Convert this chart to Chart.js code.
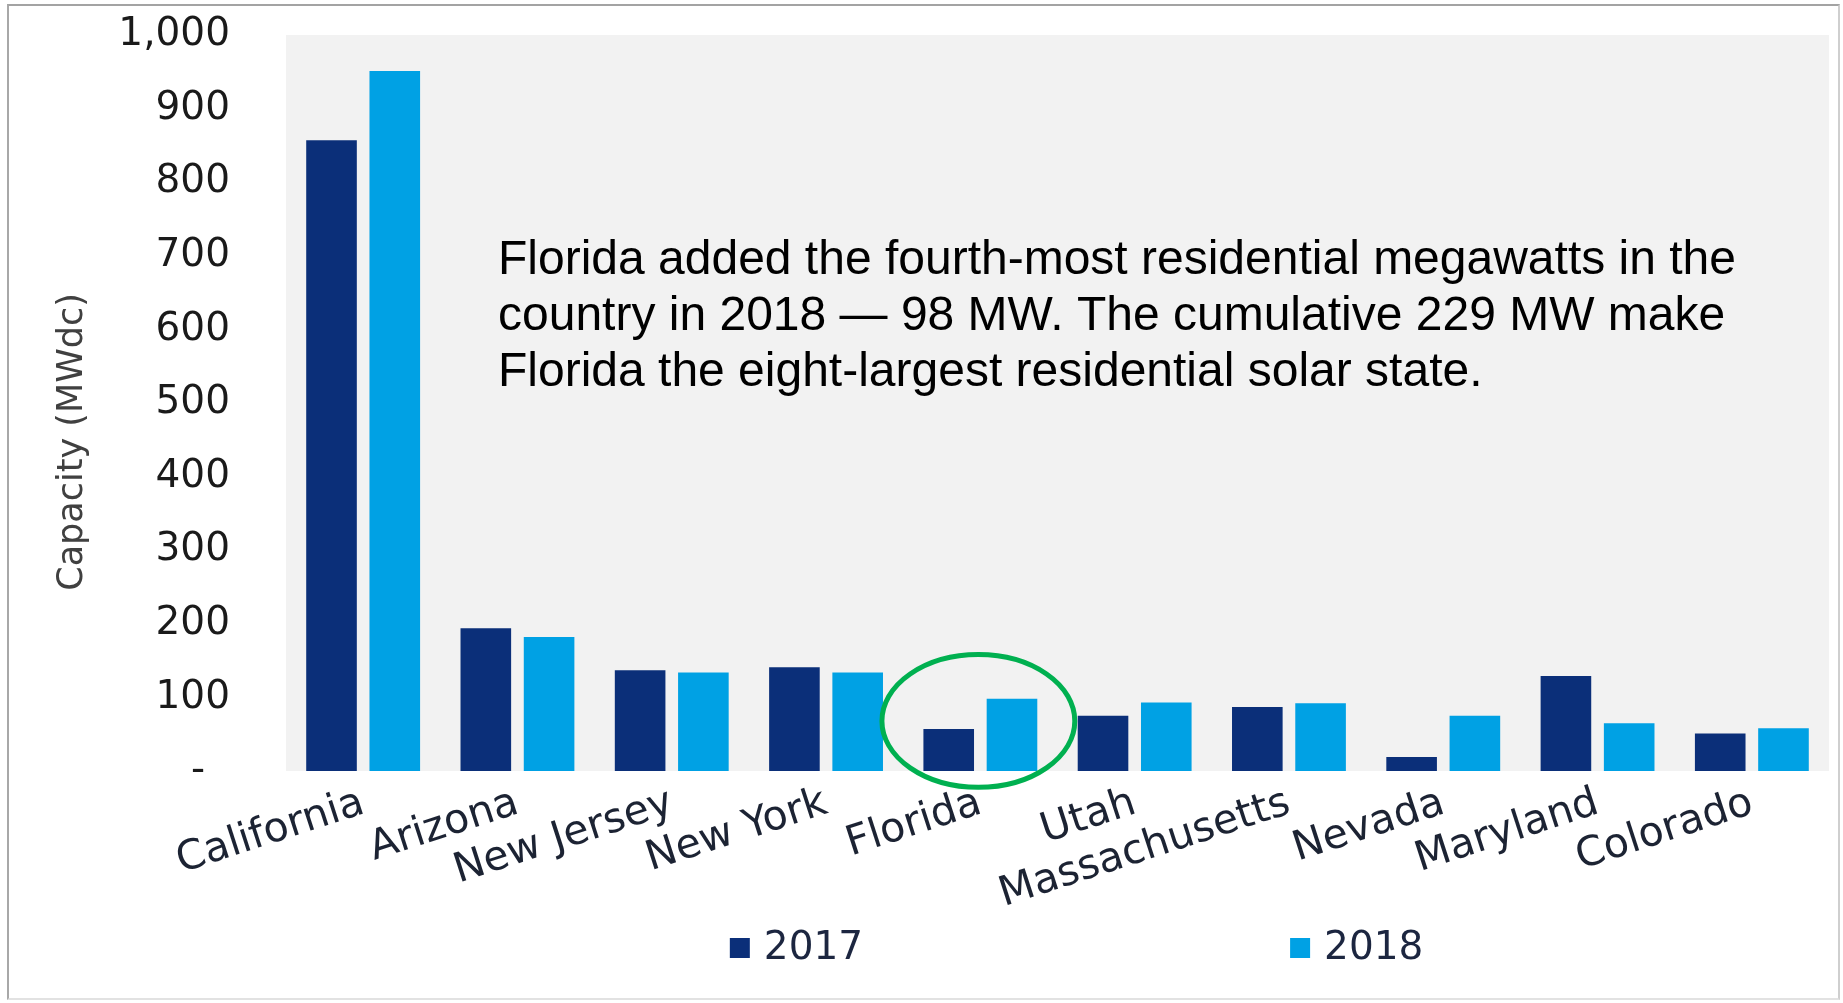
<!DOCTYPE html>
<html lang="en">
<head>
<meta charset="UTF-8">
<title>Residential solar capacity by state</title>
<script src="https://cdn.jsdelivr.net/npm/chart.js"></script>
<style>
    body {
        margin: 0;
        background: #fff;
    }
    .wrap {
        position: relative;
        width: 1843px;
        height: 1003px;
    }
    .wrap canvas {
        position: absolute;
        left: 0;
        top: 0;
    }
    .frame {
        position: absolute;
        left: 7px;
        top: 4px;
        width: 1833px;
        height: 996px;
        box-sizing: border-box;
        border-top: 2px solid #a3a3a3;
        border-left: 2px solid #a8a8a8;
        border-right: 2px solid #cfcfcf;
        border-bottom: 2px solid #e2e2e2;
        pointer-events: none;
    }
</style>
</head>
<body>
<div class="wrap">
    <canvas id="chart" width="1843" height="1003"></canvas>
    <div class="frame"></div>
</div>

<script>
    const states = ['California', 'Arizona', 'New Jersey', 'New York', 'Florida',
        'Utah', 'Massachusetts', 'Nevada', 'Maryland', 'Colorado'];
    const cap2017 = [857, 194, 137, 141, 57, 75, 87, 19, 129, 51];
    const cap2018 = [951, 182, 134, 134, 98, 93, 92, 75, 65, 58];
    const years = ['2017', '2018'];
    const yearColors = ['#0b2f79', '#00a1e4'];
    const noteLines = [
        'Florida added the fourth-most residential megawatts in the',
        'country in 2018 \u2014 98 MW. The cumulative 229 MW make',
        'Florida the eight-largest residential solar state.'
    ];
    const highlightIndex = 4; // Florida

    const axisFont = { family: '"DejaVu Sans", sans-serif', size: 39 };

    // grey plot background
    const plotBg = {
        id: 'plotBg',
        beforeDraw(chart) {
            const { ctx, chartArea: a } = chart;
            ctx.save();
            ctx.fillStyle = '#f2f2f2';
            ctx.fillRect(a.left, a.top, a.right - a.left, a.bottom - a.top);
            ctx.restore();
        }
    };

    // text note, green circle round Florida, legend row
    const extras = {
        id: 'extras',
        afterDraw(chart) {
            const { ctx, chartArea: a, scales: { x, y } } = chart;
            ctx.save();

            const catW = (a.right - a.left) / states.length;
            ctx.strokeStyle = '#00b050';
            ctx.lineWidth = 5;
            ctx.beginPath();
            ctx.ellipse(x.getPixelForValue(highlightIndex) - 2, y.getPixelForValue(68),
                catW * 0.625, catW * 0.43, 0, 0, Math.PI * 2);
            ctx.stroke();

            ctx.fillStyle = '#000';
            ctx.font = '48px "Liberation Sans", Arial, sans-serif';
            ctx.textBaseline = 'alphabetic';
            ctx.textAlign = 'left';
            noteLines.forEach((line, i) => {
                ctx.fillText(line, a.left + 212, a.top + 239 + i * 56);
            });

            ctx.font = '39px "DejaVu Sans", sans-serif';
            ctx.textBaseline = 'middle';
            const legendX = [chart.width * 0.396, chart.width * 0.70];
            chart.data.datasets.forEach((ds, i) => {
                ctx.fillStyle = ds.backgroundColor;
                ctx.fillRect(legendX[i], 938, 20, 20);
                ctx.fillStyle = '#1c2640';
                ctx.fillText(ds.label, legendX[i] + 34, 949);
            });
            ctx.restore();
        }
    };

    new Chart(document.getElementById('chart'), {
        type: 'bar',
        data: {
            labels: states,
            datasets: [
                { label: years[0], data: cap2017, backgroundColor: yearColors[0] },
                { label: years[1], data: cap2018, backgroundColor: yearColors[1] }
            ]
        },
        options: {
            responsive: false,
            animation: false,
            datasets: {
                bar: { barPercentage: 0.8, categoryPercentage: 0.82 }
            },
            layout: { padding: { top: 35, right: 14, left: 0, bottom: 0 } },
            plugins: {
                legend: { display: false },
                tooltip: { enabled: false }
            },
            scales: {
                x: {
                    grid: { display: false, drawTicks: false },
                    border: { display: false },
                    ticks: {
                        font: { family: '"DejaVu Sans", sans-serif', size: 41 },
                        color: '#1c2333',
                        minRotation: 18,
                        maxRotation: 18,
                        autoSkip: false,
                        padding: 8
                    },
                    afterFit: s => {
                        s.height = 232;
                        s.paddingLeft = 0;
                        s.paddingRight = 0;
                    }
                },
                y: {
                    min: 0,
                    max: 1000,
                    grid: { display: false, drawTicks: false },
                    border: { display: false },
                    ticks: {
                        stepSize: 100,
                        padding: 56,
                        font: axisFont,
                        color: '#1a1a1a',
                        callback: v => v === 0 ? '-\u2007' : v.toLocaleString('en-US')
                    },
                    title: {
                        display: true,
                        text: 'Capacity (MWdc)' + '\u00a0'.repeat(7),
                        font: { family: '"DejaVu Sans", sans-serif', size: 35 },
                        color: '#404040',
                        padding: { top: 52, bottom: 0 }
                    },
                    afterFit: s => {
                        s.width = 286;
                        s.paddingTop = 0;
                        s.paddingBottom = 0;
                    }
                }
            }
        },
        plugins: [plotBg, extras]
    });
</script>
</body>
</html>
